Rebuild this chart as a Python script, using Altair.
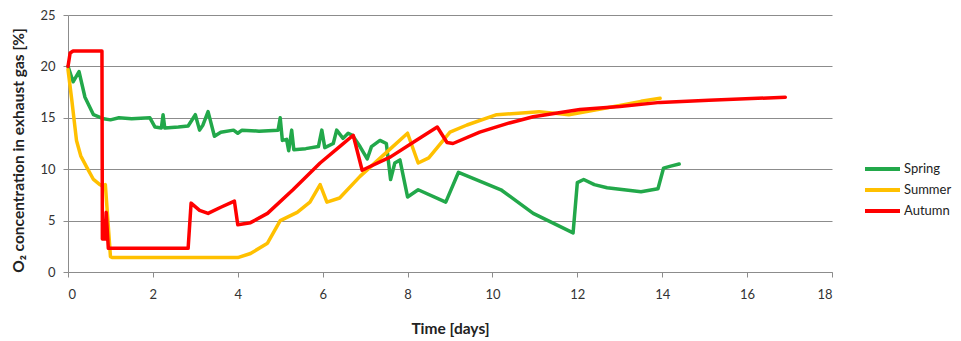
import altair as alt
import pandas as pd

series_names = ["Spring", "Summer", "Autumn"]
series_colors = ["#22a84a", "#ffc000", "#ff0000"]

spring_t = [0, 0.12, 0.26, 0.4, 0.6, 0.84, 1.0, 1.2, 1.5, 1.93, 2.05, 2.2, 2.24, 2.28, 2.6, 2.83,
            3.0, 3.1, 3.18, 3.3, 3.45, 3.6, 3.9, 4.0, 4.1, 4.5, 4.95, 5.0, 5.05, 5.15, 5.2, 5.27,
            5.32, 5.6, 5.9, 5.98, 6.05, 6.25, 6.33, 6.48, 6.6, 6.7, 6.88, 7.05, 7.15, 7.35, 7.5,
            7.6, 7.7, 7.82, 8.0, 8.25, 8.9, 9.2, 10.2, 10.96, 11.9, 12.0, 12.15, 12.4, 12.7, 13.5,
            13.9, 14.03, 14.2, 14.4]
spring_v = [20.0, 18.5, 19.5, 17.0, 15.3, 14.9, 14.8, 15.0, 14.9, 15.0, 14.1, 14.0, 15.3, 14.0, 14.1, 14.2,
            15.3, 13.8, 14.3, 15.6, 13.2, 13.6, 13.8, 13.5, 13.8, 13.7, 13.8, 15.0, 12.8, 12.9, 11.8, 13.8,
            11.9, 12.0, 12.2, 13.8, 12.1, 12.5, 13.8, 13.0, 13.5, 13.3, 12.2, 11.0, 12.2, 12.8, 12.5,
            9.0, 10.6, 10.9, 7.3, 8.0, 6.8, 9.7, 8.0, 5.7, 3.8, 8.7, 9.0, 8.5, 8.2, 7.8,
            8.1, 10.1, 10.3, 10.5]

summer_t = [0, 0.09, 0.2, 0.3, 0.44, 0.6, 0.75, 0.83, 0.88, 1.0, 1.05, 4.0, 4.3, 4.7, 5.0, 5.4,
            5.7, 5.94, 6.1, 6.4, 6.88, 7.6, 8.0, 8.25, 8.5, 9.0, 9.4, 10.1, 11.1, 11.8, 13.0, 13.5, 13.95]
summer_v = [19.7, 16.7, 12.8, 11.3, 10.2, 9.0, 8.5, 8.3, 8.5, 1.5, 1.4, 1.4, 1.8, 2.8, 5.0, 5.8,
            6.8, 8.5, 6.8, 7.2, 9.3, 12.0, 13.5, 10.6, 11.1, 13.6, 14.3, 15.3, 15.6, 15.3, 16.2, 16.6, 16.9]

autumn_t = [0, 0.05, 0.12, 0.8, 0.81, 0.87, 0.9, 0.95, 2.83, 2.9, 3.1, 3.3, 3.6, 3.92, 4.0, 4.3,
            4.7, 5.3, 5.94, 6.4, 6.72, 6.93, 7.6, 8.2, 8.7, 8.93, 9.07, 9.7, 10.4, 10.96, 12.06,
            13.0, 13.95, 15.1, 16.9]
autumn_v = [20.0, 21.3, 21.5, 21.5, 3.2, 3.2, 5.8, 2.3, 2.3, 6.7, 6.0, 5.7, 6.3, 6.9, 4.6, 4.8,
            5.7, 8.0, 10.6, 12.2, 13.3, 9.9, 11.2, 12.8, 14.1, 12.6, 12.5, 13.6, 14.5, 15.1, 15.8,
            16.1, 16.5, 16.7, 17.0]

rows = []
for name, ts, vs in zip(series_names, [spring_t, summer_t, autumn_t], [spring_v, summer_v, autumn_v]):
    for i, (t, v) in enumerate(zip(ts, vs)):
        rows.append({"series": name, "t": t, "v": v, "i": i})
df = pd.DataFrame(rows)

FONT = "Lato"
GRID = "#8c8c8c"

chart = alt.Chart(df).mark_line(strokeWidth=3.5, strokeJoin="round", strokeCap="round").encode(
    x=alt.X("t:Q", scale=alt.Scale(domain=[0, 18], nice=False),
            axis=alt.Axis(title="Time [days]", values=list(range(0, 19, 2)), grid=False,
                          domainColor=GRID, tickColor=GRID, tickSize=5, labelPadding=11,
                          labelFontSize=13, labelColor="#333333", labelFont=FONT,
                          titleFont=FONT, titleFontSize=15.5, titleFontWeight="bold",
                          titleColor="#222222", titleY=56, titleBaseline="middle")),
    y=alt.Y("v:Q", scale=alt.Scale(domain=[0, 25], nice=False),
            axis=alt.Axis(title="O₂ concentration in exhaust gas [%]", values=list(range(0, 26, 5)),
                          grid=True, gridColor=GRID, gridWidth=1,
                          domainColor=GRID, tickColor=GRID, tickSize=5, labelPadding=8,
                          labelFontSize=13, labelColor="#333333", labelFont=FONT,
                          titleFont=FONT, titleFontSize=15.5, titleFontWeight="bold",
                          titleColor="#222222", titleX=-50, titleY=135, titleAngle=-90,
                          titleAlign="center", titleBaseline="middle")),
    color=alt.Color("series:N", scale=alt.Scale(domain=series_names, range=series_colors),
                    legend=alt.Legend(title=None, orient="none", legendX=807.5, legendY=147,
                                      symbolType="M-3.5,0H3.5", symbolStrokeWidth=4, symbolSize=100,
                                      labelFont=FONT, labelFontSize=13, labelColor="#222222",
                                      labelOffset=14.5, rowPadding=5)),
    order="i:Q",
).properties(
    width=764, height=257,
    autosize=alt.AutoSizeParams(type="none"),
    padding={"left": 60, "top": 7, "right": 121, "bottom": 70},
).configure_view(stroke=None)

chart.save("out.html", embed_options={"renderer": "svg", "actions": False})
